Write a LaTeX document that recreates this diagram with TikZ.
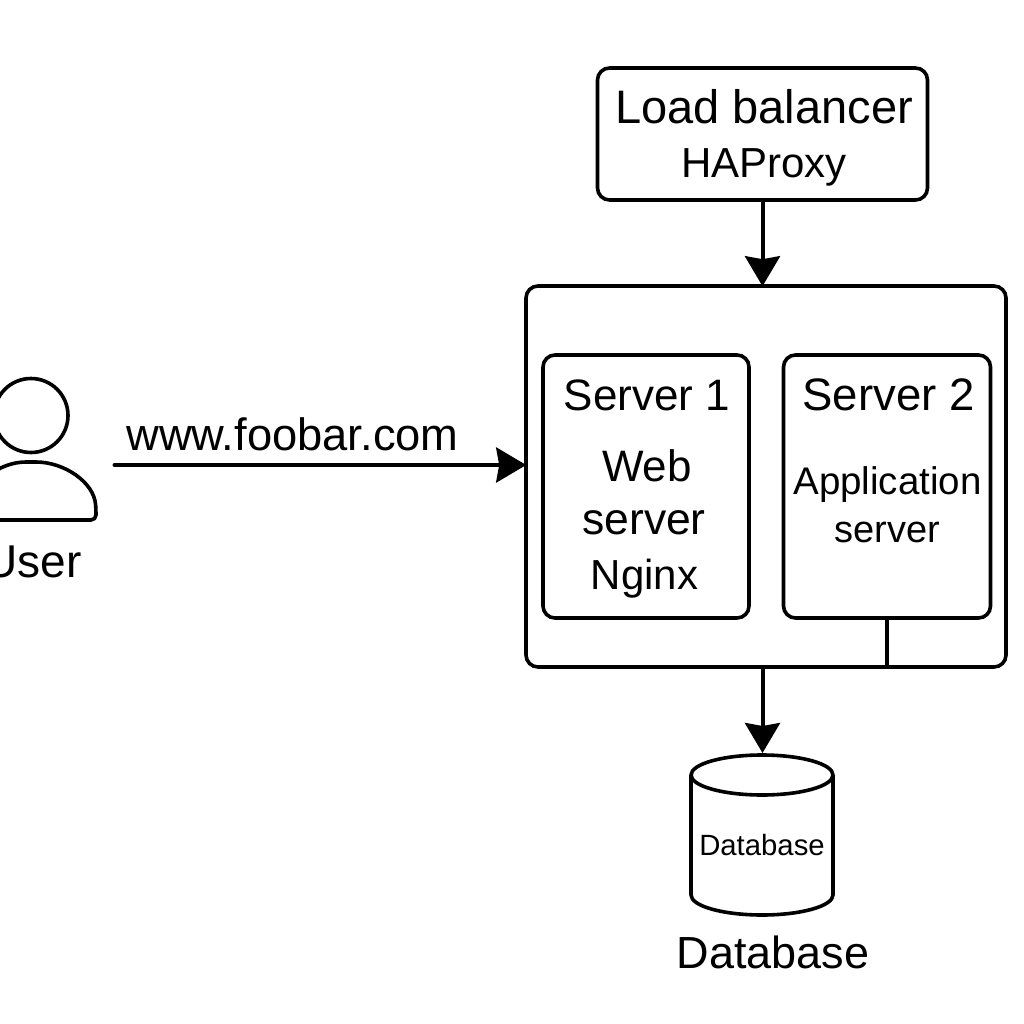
\documentclass[tikz,border=0pt]{standalone}
\usepackage{fontspec}
\setmainfont{Liberation Sans}
\usetikzlibrary{arrows.meta,positioning}
\newcommand{\fs}[1]{\fontsize{#1}{#1}\selectfont}
\tikzset{
  box/.style={draw=black,rounded corners=12pt,line width=3.6pt,inner sep=0pt},
  lbl/.style={inner sep=0pt,text=black,anchor=base},
  arr/.style={-{Stealth[length=30pt,width=35pt,inset=3pt]},line width=4pt,shorten >=-2pt},
}
\begin{document}
\begin{tikzpicture}[x=1pt,y=-1pt]
\useasboundingbox (0,0) rectangle (1024,1024);
% boxes
\node[box,minimum width=330pt,minimum height=132pt] (lb) at (762.5,134) {};
\node[box,minimum width=480pt,minimum height=381pt] (host) at (766,476.5) {};
\node[box,minimum width=206pt,minimum height=263pt] (srv1) at (646,486.5) {};
\node[box,minimum width=207pt,minimum height=263pt] (srv2) at (887,486.5) {};
% database drum
\node[font=\fs{29.3},inner sep=0pt] (dbin) at (762,845) {Database};
\coordinate (dbtop) at (762,755);
\draw[line width=3.6pt,line join=round] (691,775) arc[start angle=180,end angle=540,x radius=71,y radius=20]
  -- (691,895) arc[start angle=180,end angle=0,x radius=71,y radius=20] -- (833,775);
% texts
\node[lbl,font=\fs{47}] (lbt) at (764,124) {Load balancer};
\node[lbl,font=\fs{42}] (lbs) at (764,178) {HAProxy};
\node[lbl,font=\fs{44}] (s1t) at (647,410) {Server 1};
\node[lbl,font=\fs{44}] (s1a) at (647,481) {Web};
\node[lbl,font=\fs{44.5}] (s1b) at (644,534) {server};
\node[lbl,font=\fs{42}] (s1c) at (644.5,589) {Nginx};
\node[lbl,font=\fs{45.5}] (s2t) at (888.5,410) {Server 2};
\node[lbl,font=\fs{38.5}] (s2a) at (887.5,494) {Application};
\node[lbl,font=\fs{38}] (s2b) at (887,542) {server};
\node[lbl,font=\fs{45}] (dbt) at (773,968) {Database};
\node[lbl,font=\fs{45.3}] (url) at (292.5,450) {www.foobar.com};
\node[lbl,font=\fs{46}] (usrt) at (33,577) {User};
% user icon
\node[circle,draw=black,line width=3.6pt,minimum size=74pt,inner sep=0pt] (head) at (31,415.5) {};
\draw[line width=3.6pt,rounded corners=5pt] (-40,520) -- (96,520) -- (96,510)
  .. controls (94,482) and (64,462) .. (31,462) .. controls (0,462) and (-30,482) .. (-34,520) -- cycle;
% connectors
\coordinate (usr) at (114.5,465);
\draw[arr,line cap=round] (usr) -- (usr -| host.west);
\draw[arr] (lb.south) -- (lb.south |- host.north);
\draw[arr,shorten >=2pt] (lb.south |- host.south) -- (lb.south |- dbtop);
\draw[line width=3.6pt] (srv2.south) -- (srv2.south |- host.south);
\end{tikzpicture}
\end{document}
